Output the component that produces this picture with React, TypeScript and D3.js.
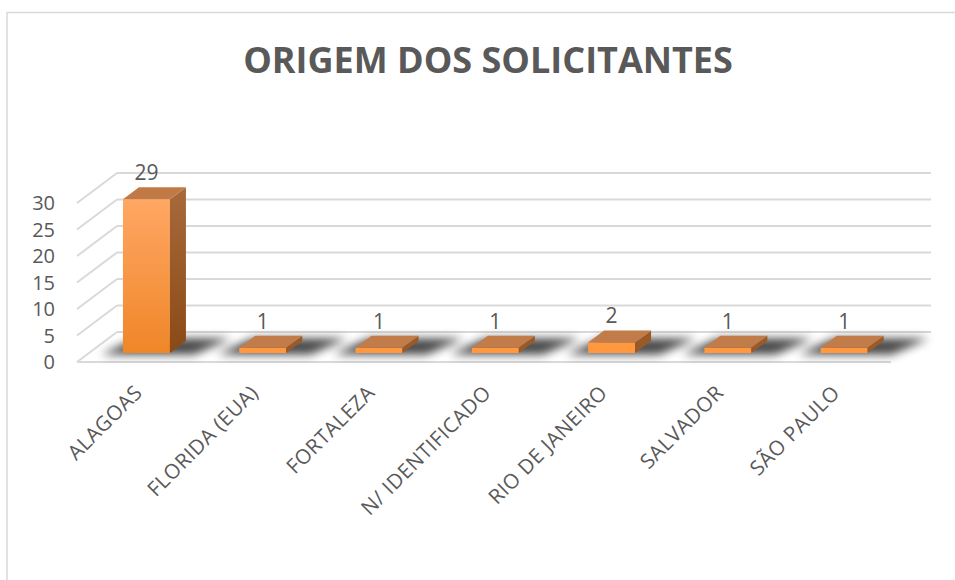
import * as d3 from 'd3'
import React from 'react'

const categories = ['ALAGOAS', 'FLORIDA (EUA)', 'FORTALEZA', 'N/ IDENTIFICADO', 'RIO DE JANEIRO', 'SALVADOR', 'SÃO PAULO']
const values = [29, 1, 1, 1, 2, 1, 1]
const yTicks = [0, 5, 10, 15, 20, 25, 30]

const W = 955
const H = 580
const FONT = '"Open Sans", sans-serif'
const TEXT = '#595959'
const GRID = '#d9d9d9'

// floor depth offset (front -> back wall)
const DX = 40
const DY = -30
const BAR_D0 = 0.3
const BAR_D1 = 0.7

const x = d3.scaleBand().domain(categories).range([77, 891]).paddingInner(0).paddingOuter(0)
const y = d3.scaleLinear().domain([0, 30]).range([362, 203])

const pt = (px, v, d) => [px + DX * d, y(v) + DY * d]
const poly = pts => pts.map(p => p.join(',')).join(' ')

export default function App() {
  const bw = x.bandwidth()

  return (
    <svg width={W} height={H} style={{ position: 'absolute', left: 0, top: 0 }} fontFamily={FONT}>
      <defs>
        <linearGradient id="front" x1="0" y1="0" x2="0" y2="1">
          <stop offset="0" stopColor="#ffa764" />
          <stop offset="1" stopColor="#ef8628" />
        </linearGradient>
        <linearGradient id="side" x1="0" y1="0" x2="0" y2="1">
          <stop offset="0" stopColor="#a86a3c" />
          <stop offset="1" stopColor="#8a4a16" />
        </linearGradient>
        <filter id="blur" x="-50%" y="-100%" width="200%" height="300%">
          <feGaussianBlur stdDeviation="5" />
        </filter>
      </defs>

      <rect x={7} y={12.5} width={W + 20} height={H + 20} fill="#fff" stroke={GRID} strokeWidth={1.5} />

      {/* back wall + left side grid */}
      {yTicks.map(t => {
        const [fx, fy] = pt(x.range()[0], t, 0)
        const [bx, by] = pt(x.range()[0], t, 1)
        const [ex] = pt(x.range()[1], t, 1)
        return (
          <g key={t}>
            <line x1={fx} y1={fy} x2={bx} y2={by} stroke={GRID} strokeWidth={2} />
            <line x1={bx} y1={by} x2={ex} y2={by} stroke={GRID} strokeWidth={2} />
            <text x={55} y={fy} dy="0.36em" textAnchor="end" fontSize={20} fill={TEXT}>
              {t}
            </text>
          </g>
        )
      })}
      <line x1={x.range()[0]} y1={y(0)} x2={x.range()[1]} y2={y(0)} stroke={GRID} strokeWidth={2} />

      <text x={488} y={73} textAnchor="middle" fontSize={36} fontWeight="bold" fill={TEXT}>
        ORIGEM DOS SOLICITANTES
      </text>

      {categories.map((c, i) => {
        const v = values[i]
        const x0 = x(c) + bw * 0.292
        const x1 = x0 + bw * 0.404
        const fl = pt(x0, v, BAR_D0)
        const fr = pt(x1, v, BAR_D0)
        const br = pt(x1, v, BAR_D1)
        const bl = pt(x0, v, BAR_D1)
        const fr0 = pt(x1, 0, BAR_D0)
        const br0 = pt(x1, 0, BAR_D1)
        const fl0 = pt(x0, 0, BAR_D0)
        const sh = [
          pt(x0 - 20, 0, BAR_D0 - 0.05),
          pt(x1 + 26, 0, BAR_D0 - 0.05),
          pt(x1 + 42, 0, BAR_D1 + 0.08),
          pt(x0 - 6, 0, BAR_D1 + 0.08),
        ]
        const small = v < 5
        return (
          <g key={c}>
            <polygon points={poly(sh)} fill="#000" opacity={0.72} filter="url(#blur)" />
            <rect
              x={fl[0]}
              y={fl[1]}
              width={fr[0] - fl[0]}
              height={fl0[1] - fl[1]}
              fill={small ? '#ff983f' : 'url(#front)'}
            />
            <polygon points={poly([fr, br, br0, fr0])} fill={small ? '#9a5a28' : 'url(#side)'} />
            <polygon points={poly([fl, fr, br, bl])} fill={small ? '#c27c4a' : '#c17a45'} />
            <text x={(fl[0] + fr[0]) / 2} y={br[1] - 7} textAnchor="middle" fontSize={21} fill={TEXT}>
              {v}
            </text>
            <text
              transform={`translate(${(fl[0] + fr[0]) / 2 - 3},394) rotate(-45)`}
              textAnchor="end"
              fontSize={20.5}
              letterSpacing={0.5}
              fill={TEXT}
            >
              {c}
            </text>
          </g>
        )
      })}
    </svg>
  )
}
